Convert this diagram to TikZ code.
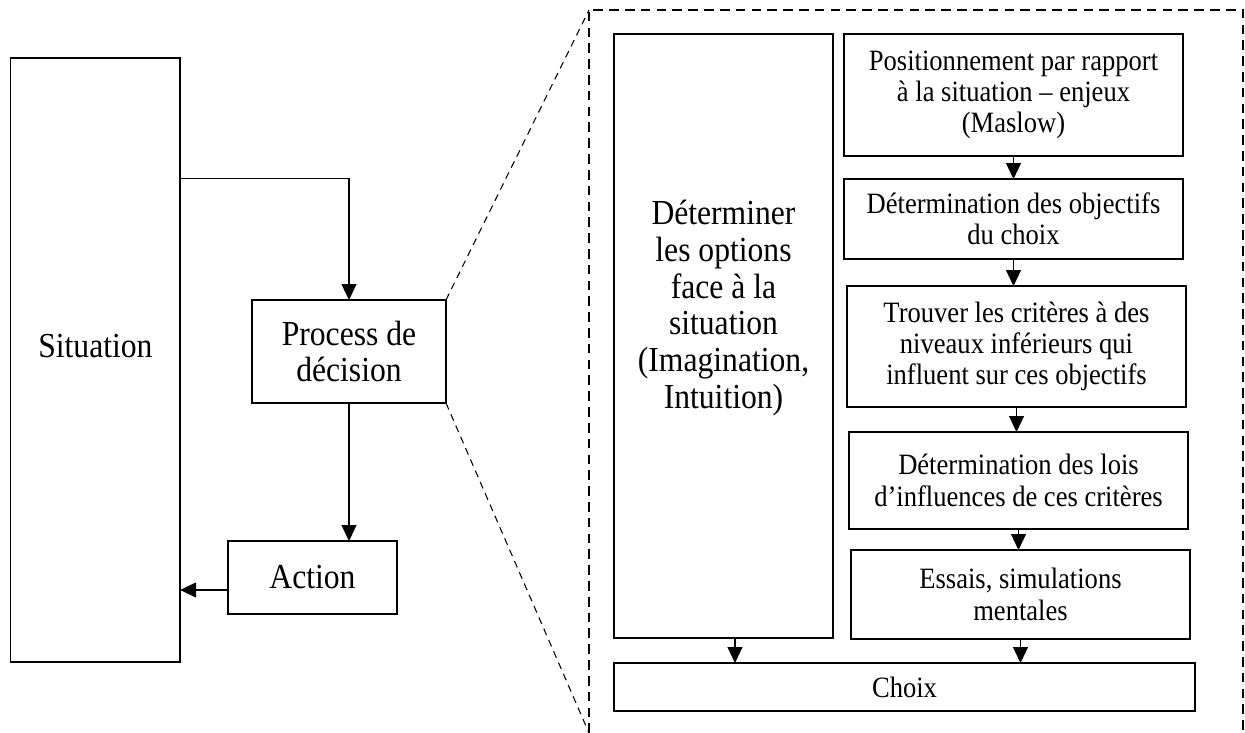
\documentclass[tikz,border=0pt]{standalone}
\usepackage{fontspec}
\setmainfont{Liberation Serif}[FakeStretch=0.9]
\usetikzlibrary{arrows.meta,calc}

\tikzset{
  box/.style={draw, line width=0.8pt, inner sep=0pt, outer sep=0pt, align=center},
  bigtext/.style={font=\fontsize{20}{21}\selectfont},
  smalltext/.style={font=\fontsize{16.8}{17.8}\selectfont},
  arr/.style={line width=0.7pt, -{Triangle[length=0.32cm, width=0.3cm]}},
  zoomline/.style={line width=0.6pt, dash pattern=on 4pt off 3pt},
  frame/.style={line width=1.2pt, dash pattern=on 5.5pt off 3.5pt}
}

\begin{document}
\begin{tikzpicture}[x=0.02cm, y=-0.02cm]
    \useasboundingbox (0,0) rectangle (1245,733);

    \node[box, bigtext, minimum width=3.39cm, minimum height=12.08cm, text depth=0.55cm] (situation) at (95.4,360) {Situation};
    \node[box, bigtext, minimum width=3.88cm, minimum height=2.06cm] (process) at (349,351.5) {Process de\\d\'ecision};
    \node[box, bigtext, minimum width=3.38cm, minimum height=1.46cm] (action) at (312.5,577.5) {Action};

    \draw[arr] ($(situation.north east)!0.2!(situation.south east)$) -| (process.north);
    \draw[arr] (process.south) -- (process.south |- action.north);
    \draw[arr] ([yshift=-0.25cm]action.west) -- ([yshift=-0.25cm]action.west -| situation.east);

    \coordinate (frametop) at (589,10);
    \coordinate (framebottom) at (589,733);
    \draw[frame] (framebottom) |- (1243,10) -- (1243,733);
    \draw[zoomline] (process.north east) -- (frametop);
    \draw[zoomline] (process.south east) -- (framebottom);

    \node[box, minimum width=4.38cm, minimum height=12.08cm] (options) at (723.5,336) {};
    \node[bigtext, align=center] (optionstext) at ([yshift=0.56cm]options.center) {D\'eterminer\\les options\\face \`a la\\situation\\(Imagination,\\Intuition)};
    \node[box, smalltext, minimum width=6.78cm, minimum height=2.44cm] (enjeux) at (1013.5,95) {Positionnement par rapport\\\`a la situation -- enjeux\\(Maslow)};
    \node[box, smalltext, minimum width=6.78cm, minimum height=1.60cm] (objectifs) at (1013.5,219) {D\'etermination des objectifs\\du choix};
    \node[box, smalltext, minimum width=6.78cm, minimum height=2.42cm] (criteres) at (1016.5,346.5) {Trouver les crit\`eres \`a des\\niveaux inf\'erieurs qui\\influent sur ces objectifs};
    \node[box, smalltext, minimum width=6.78cm, minimum height=1.94cm] (lois) at (1018.5,480.5) {D\'etermination des lois\\d'influences de ces crit\`eres};
    \node[box, smalltext, minimum width=6.78cm, minimum height=1.78cm] (essais) at (1020.5,594.5) {Essais, simulations\\mentales};
    \node[box, smalltext, minimum width=11.62cm, minimum height=0.96cm] (choix) at (904.5,687) {Choix};

    \draw[arr] (enjeux.south) -- (enjeux.south |- objectifs.north);
    \draw[arr] (objectifs.south) -- (objectifs.south |- criteres.north);
    \draw[arr] (criteres.south) -- (criteres.south |- lois.north);
    \draw[arr] (lois.south) -- (lois.south |- essais.north);
    \draw[arr] ([xshift=0.23cm]options.south) -- ([xshift=0.23cm]options.south |- choix.north);
    \draw[arr] (essais.south) -- (essais.south |- choix.north);
\end{tikzpicture}
\end{document}
